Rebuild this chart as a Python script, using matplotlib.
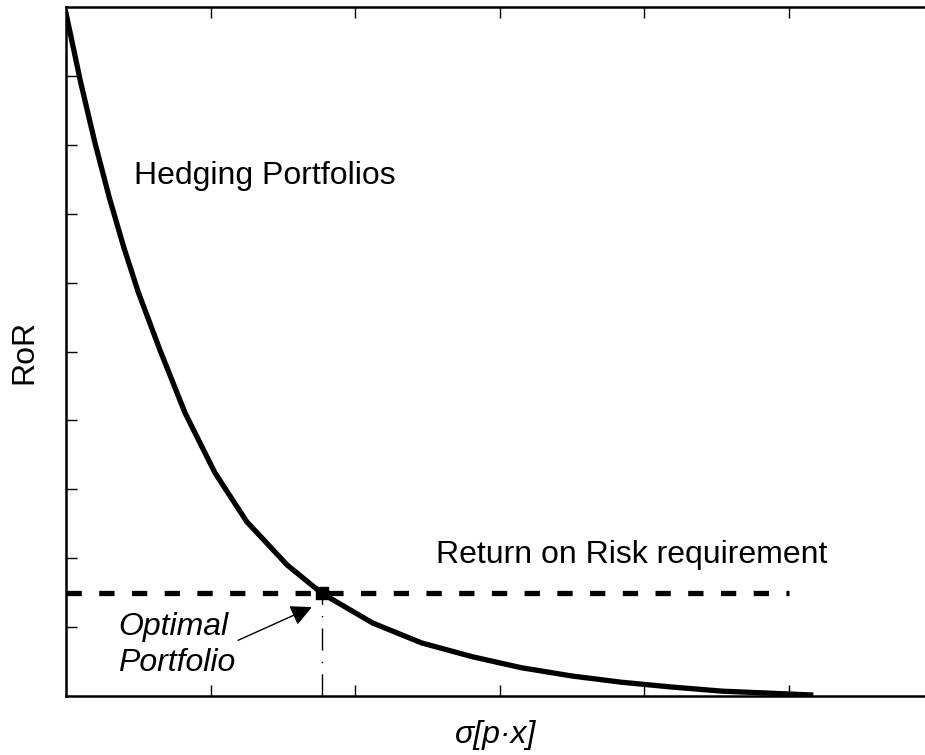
import matplotlib.pyplot as plt

# Efficient frontier of hedging portfolios
sigma = [0.0, 0.1, 0.2, 0.3, 0.4, 0.5, 0.65, 0.823, 1.03, 1.25, 1.53, 1.77,
         2.12, 2.46, 2.81, 3.15, 3.50, 3.84, 4.19, 4.54, 4.88, 5.15]
ror = [9.91, 8.92, 8.03, 7.23, 6.51, 5.86, 5.02, 4.11, 3.24, 2.53, 1.90, 1.49,
       1.06, 0.77, 0.57, 0.41, 0.29, 0.20, 0.13, 0.07, 0.04, 0.015]

# Return on risk requirement and the optimal point
req_level = 1.49
req_x = [0.0, 5.0]
opt_sigma = 1.77
opt_ror = 1.49

plt.rcParams['font.family'] = ['Liberation Sans', 'DejaVu Sans']

fig = plt.figure(figsize=(9.25, 7.55), dpi=100)
ax = fig.add_axes([66 / 925, 59 / 755, 859 / 925, 689 / 755])

ax.plot(sigma, ror, color='black', lw=3.8, solid_joinstyle='round', zorder=3)
ax.plot(req_x, [req_level, req_level], color='black', lw=3.8,
        linestyle=(0, (2.9, 3.3)), zorder=2)
ax.plot([opt_sigma, opt_sigma], [0, opt_ror], color='black', lw=1.0,
        linestyle=(0, (16, 8, 1, 8)), zorder=2)
ax.plot([opt_sigma], [opt_ror], marker='s', color='black', markersize=8.5,
        zorder=4)

ax.text(0.47, 7.55, 'Hedging Portfolios', fontsize=23, va='center', ha='left')
ax.text(2.56, 2.05, 'Return on Risk requirement', fontsize=23,
        va='center', ha='left')
ax.annotate('Optimal\nPortfolio', xy=(opt_sigma - 0.07, opt_ror - 0.2),
            xytext=(0.36, 0.74), fontsize=23, style='italic',
            ha='left', va='center', linespacing=1.3,
            arrowprops=dict(arrowstyle='-|>', color='black', lw=1.0,
                            mutation_scale=32, shrinkA=0, shrinkB=0,
                            relpos=(0.96, 0.52)))

ax.set_xlim(0, 859 / 144.6)
ax.set_ylim(0, 10)
ax.set_xticks([1, 2, 3, 4, 5])
ax.set_yticks(range(1, 10))
ax.set_xticklabels([])
ax.set_yticklabels([])
ax.tick_params(direction='in', length=8, width=1, top=True, right=False)

for side in ['left', 'bottom', 'top']:
    ax.spines[side].set_linewidth(1.8)
ax.spines['right'].set_visible(False)

ax.set_xlabel('σ[p·x]', fontsize=23, style='italic', labelpad=14)
ax.set_ylabel('RoR', fontsize=23, labelpad=16)

fig.savefig('out.png', dpi=100)
